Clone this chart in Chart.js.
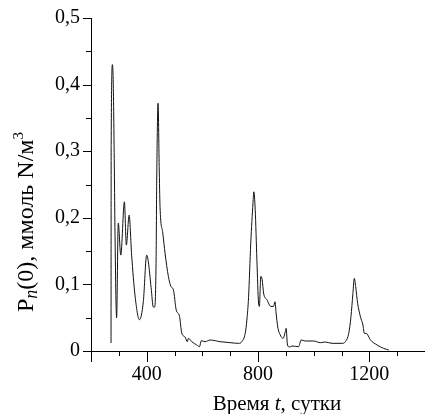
<!DOCTYPE html>
<html lang="ru">
<head>
    <meta charset="UTF-8">
    <title>Pn(0)</title>
    <script src="https://cdn.jsdelivr.net/npm/chart.js@4.4.1/dist/chart.umd.min.js"></script>
    <style>
        html, body {
            margin: 0;
            padding: 0;
            background-color: #ffffff;
        }
        #wrap {
            width: 425px;
            height: 414px;
        }
    </style>
</head>
<body>
    <div id="wrap"><canvas id="plot" width="425" height="414"></canvas></div>

    <script>
        // time, days
        const times = [272, 272.5, 277, 280, 284, 286, 292, 298, 307, 320, 327, 337, 346, 358, 374, 388,
            400, 406, 416, 424, 429, 434, 436, 441, 445, 448, 458, 466, 478, 487, 496, 506, 518, 526,
            538, 546, 550, 562, 580, 590, 596, 610, 628, 664, 700, 730, 742, 754, 760, 766, 774, 782,
            785, 790, 796, 802, 805, 810, 815, 820, 832, 846, 856, 861, 865, 871, 880, 890, 898, 901,
            906, 913, 922, 946, 955, 970, 1000, 1024, 1042, 1066, 1102, 1114, 1126, 1134, 1141, 1146,
            1151, 1158, 1168, 1177, 1182, 1189, 1204, 1228, 1251, 1270];
        // Pn(0), mmol N/m3
        const pn = [0.012, 0.31, 0.43, 0.40, 0.27, 0.185, 0.05, 0.192, 0.144, 0.224, 0.159, 0.204, 0.144, 0.084, 0.047, 0.074,
            0.144, 0.134, 0.095, 0.066, 0.066, 0.142, 0.252, 0.372, 0.277, 0.217, 0.177, 0.147, 0.112, 0.097, 0.092, 0.062, 0.052, 0.027,
            0.021, 0.014, 0.019, 0.014, 0.009, 0.0065, 0.0155, 0.014, 0.0165, 0.014, 0.0125, 0.0115, 0.014, 0.0265, 0.0465, 0.08, 0.162, 0.222,
            0.239, 0.212, 0.137, 0.072, 0.067, 0.112, 0.107, 0.087, 0.077, 0.067, 0.067, 0.074, 0.057, 0.036, 0.024, 0.019, 0.029, 0.034,
            0.009, 0.006, 0.0075, 0.0065, 0.0165, 0.015, 0.015, 0.0125, 0.0135, 0.0115, 0.0115, 0.014, 0.0265, 0.0515, 0.0865, 0.109,
            0.0965, 0.0715, 0.0515, 0.039, 0.0265, 0.0265, 0.0165, 0.009, 0.004, 0.0015];

        const xLabels = [400, 800, 1200];
        const yLabels = [0, 0.1, 0.2, 0.3, 0.4, 0.5];

        const serif = '"Liberation Serif", "Times New Roman", serif';

        // tick marks: long at labelled values, short elsewhere
        const tickMarks = {
            id: 'tickMarks',
            afterDraw(chart) {
                const ctx = chart.ctx;
                const xs = chart.scales.x;
                const ys = chart.scales.y;
                ctx.save();
                ctx.strokeStyle = '#000';
                ctx.lineWidth = 1;
                ctx.beginPath();
                xs.ticks.forEach(t => {
                    const px = Math.round(xs.getPixelForValue(t.value)) + 0.5;
                    const len = (xLabels.includes(t.value) || t.value === 200) ? 11 : 5;
                    ctx.moveTo(px, xs.top);
                    ctx.lineTo(px, xs.top + len);
                });
                ys.ticks.forEach(t => {
                    const py = Math.round(ys.getPixelForValue(t.value)) + 0.5;
                    const major = Math.round(t.value * 100) % 10 === 0;
                    ctx.moveTo(ys.right - (major ? 8 : 5), py);
                    ctx.lineTo(ys.right, py);
                });
                ctx.stroke();
                ctx.restore();
            }
        };

        // axis titles with italic / sub / superscript parts
        function drawRich(ctx, parts, size) {
            let w = 0;
            parts.forEach(p => {
                ctx.font = (p.italic ? 'italic ' : '') + Math.round(size * (p.scale || 1)) + 'px ' + serif;
                p.w = ctx.measureText(p.text).width;
                w += p.w;
            });
            let x = -w / 2;
            parts.forEach(p => {
                ctx.font = (p.italic ? 'italic ' : '') + Math.round(size * (p.scale || 1)) + 'px ' + serif;
                ctx.fillText(p.text, x, (p.dy || 0) * size);
                x += p.w;
            });
        }

        const axisTitles = {
            id: 'axisTitles',
            afterDraw(chart) {
                const ctx = chart.ctx;
                ctx.save();
                ctx.fillStyle = '#000';
                ctx.textBaseline = 'alphabetic';
                ctx.textAlign = 'left';

                ctx.save();
                ctx.translate(277, 410);
                drawRich(ctx, [
                    { text: 'Время ' },
                    { text: 't', italic: true },
                    { text: ', сутки' }
                ], 21);
                ctx.restore();

                ctx.save();
                ctx.translate(33, 222);
                ctx.rotate(-Math.PI / 2);
                drawRich(ctx, [
                    { text: 'P' },
                    { text: 'n', italic: true, scale: 0.75, dy: 0.15 },
                    { text: '(0), ммоль N/м' },
                    { text: '3', scale: 0.62, dy: -0.42 }
                ], 24);
                ctx.restore();

                ctx.restore();
            }
        };

        const points = times.map((t, i) => ({ x: t, y: pn[i] }));

        new Chart(document.getElementById('plot').getContext('2d'), {
            type: 'line',
            data: {
                datasets: [{
                    data: points,
                    borderColor: '#111111',
                    borderWidth: 1,
                    pointRadius: 0,
                    fill: false,
                    cubicInterpolationMode: 'monotone'
                }]
            },
            options: {
                responsive: false,
                animation: false,
                layout: { padding: { top: 18, right: 0, left: 0, bottom: 0 } },
                plugins: {
                    legend: { display: false },
                    tooltip: { enabled: false }
                },
                scales: {
                    x: {
                        type: 'linear',
                        min: 200,
                        max: 1400,
                        afterFit: s => { s.height = 63; s.paddingRight = 0; s.paddingLeft = 0; },
                        border: { display: true, color: '#000', width: 1 },
                        grid: { drawOnChartArea: false, drawTicks: false },
                        ticks: {
                            stepSize: 100,
                            maxRotation: 0,
                            autoSkip: false,
                            padding: 12,
                            color: '#000',
                            font: { family: serif, size: 20 },
                            callback: v => xLabels.includes(v) ? String(v) : ''
                        }
                    },
                    y: {
                        min: 0,
                        max: 0.5,
                        afterFit: s => { s.width = 91; s.paddingTop = 0; s.paddingBottom = 0; },
                        border: { display: true, color: '#000', width: 1 },
                        grid: { drawOnChartArea: false, drawTicks: false },
                        ticks: {
                            stepSize: 0.05,
                            autoSkip: false,
                            padding: 11,
                            color: '#000',
                            font: { family: serif, size: 20 },
                            callback: v => {
                                const r = Math.round(v * 100) / 100;
                                return yLabels.some(l => Math.abs(l - r) < 1e-6) ? String(r).replace('.', ',') : '';
                            }
                        }
                    }
                }
            },
            plugins: [tickMarks, axisTitles]
        });
    </script>
</body>
</html>
